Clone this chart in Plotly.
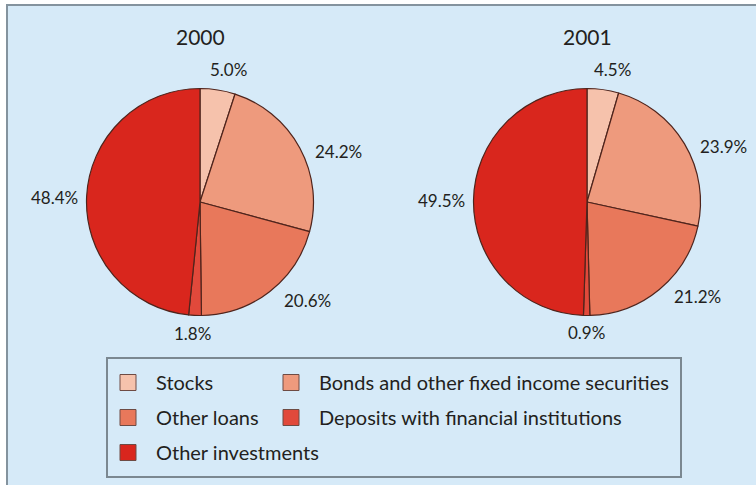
import math
import plotly.graph_objects as go

# Portfolio composition by asset class, share of total (%)
categories = [
    "Stocks",
    "Bonds and other fixed income securities",
    "Other loans",
    "Deposits with financial institutions",
    "Other investments",
]
share_2000 = [5.0, 24.2, 20.6, 1.8, 48.4]
share_2001 = [4.5, 23.9, 21.2, 0.9, 49.5]
years = ["2000", "2001"]

colors = ["#f6c2ac", "#ee9a7d", "#e8785b", "#e1493b", "#d9261d"]

# Canvas and pie geometry (pixels)
W, H = 756, 485
R = 113.5
centers = [(200, 202), (587, 202)]
FONT = "Lato"
INK = "#231f20"
EDGE = "#4f241c"


def fx(x):
    return x / W


def fy(y):
    return 1 - y / H


fig = go.Figure()
annotations = []

for year, shares, (cx, cy) in zip(years, [share_2000, share_2001], centers):
    fig.add_trace(go.Pie(
        labels=categories,
        values=shares,
        sort=False,
        direction="clockwise",
        rotation=0,
        marker=dict(colors=colors, line=dict(color=EDGE, width=1.2)),
        textinfo="none",
        hoverinfo="label+percent",
        showlegend=False,
        domain=dict(x=[fx(cx - R), fx(cx + R)], y=[fy(cy + R), fy(cy - R)]),
    ))
    annotations.append(dict(
        text=year, x=fx(cx), y=fy(37), xref="paper", yref="paper",
        showarrow=False, xanchor="center", yanchor="middle",
        font=dict(family=FONT, size=21, color=INK),
    ))
    # value labels outside each slice, spread towards the sides
    total = sum(shares)
    cum = 0.0
    for v in shares:
        mid = (cum + v / 2) / total * 360
        cum += v
        a = math.radians(mid + 10 * math.sin(math.radians(2 * mid)))
        s, c = math.sin(a), math.cos(a)
        d = R + 8 + 24 * abs(s) + 9 * abs(c)
        annotations.append(dict(
            text=f"{v:.1f}%", x=fx(cx + d * s), y=fy(cy - d * c),
            xref="paper", yref="paper", showarrow=False,
            xanchor="center", yanchor="middle",
            font=dict(family=FONT, size=17, color=INK),
        ))

# Legend entries laid out in two columns
legend_columns = {"legend": [0, 2, 4], "legend2": [1, 3]}
for key, idxs in legend_columns.items():
    for i in idxs:
        fig.add_trace(go.Scatter(
            x=[None], y=[None], mode="markers", name=categories[i],
            marker=dict(symbol="square", size=16, color=colors[i],
                        line=dict(color="#6e4b44", width=1)),
            legend=key, legendgroup=categories[i], hoverinfo="skip",
        ))

legend_style = dict(
    xanchor="left", yanchor="top", bgcolor="rgba(0,0,0,0)", borderwidth=0,
    font=dict(family=FONT, size=20, color=INK), itemwidth=46,
    tracegroupgap=6, traceorder="grouped", itemclick=False, itemdoubleclick=False,
)

shapes = [
    # panel
    dict(type="rect", xref="paper", yref="paper", layer="below",
         x0=fx(7), y0=fy(5), x1=1.05, y1=-0.05,
         fillcolor="#d6eaf8", line=dict(color="#84939e", width=2)),
    # legend frame
    dict(type="rect", xref="paper", yref="paper", layer="below",
         x0=fx(107), y0=fy(358), x1=fx(681), y1=fy(477),
         fillcolor="rgba(0,0,0,0)", line=dict(color="#7b8891", width=2)),
]

fig.update_layout(
    width=W, height=H,
    margin=dict(l=0, r=0, t=0, b=0),
    paper_bgcolor="white",
    plot_bgcolor="rgba(0,0,0,0)",
    xaxis=dict(visible=False),
    yaxis=dict(visible=False),
    annotations=annotations,
    shapes=shapes,
    legend=dict(x=fx(100), y=fy(363), **legend_style),
    legend2=dict(x=fx(263), y=fy(363), **legend_style),
)

fig.write_html("out.html")
